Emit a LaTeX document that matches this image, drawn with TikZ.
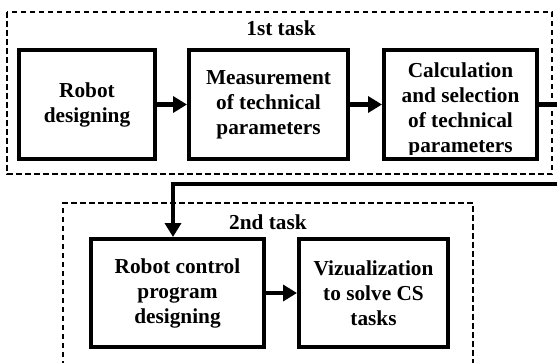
\documentclass[tikz,border=0pt]{standalone}
\usepackage{fontspec}
\setmainfont{Liberation Serif}
\usetikzlibrary{arrows.meta}
\begin{document}
\begin{tikzpicture}[x=1pt,y=-1pt,
  txt/.style={font=\fontsize{21.3}{25}\selectfont\bfseries,inner sep=0pt,align=center},
  blk/.style={txt,draw,line width=4pt,rectangle},
  grp/.style={draw,line width=1.4pt,dash pattern=on 5.5pt off 3.5pt},
  flow/.style={line width=4.5pt,-{Triangle[length=14pt,width=16pt]}},
  wire/.style={line width=4.5pt}]
\useasboundingbox (0,0) rectangle (557,362);
\clip (0,0) rectangle (557,362);
% group frames
\draw[grp] (7,12) rectangle (552,174);
\draw[grp] (63,420) -- (63,203) -- (473,203) -- (473,420);
\node[txt] (t1) at (281,28.5) {1st task};
\node[txt] (t2) at (268,222) {2nd task};
% boxes
\node[blk,minimum width=136pt,minimum height=109pt] (a) at (87,104.5) {Robot\\designing};
\node[blk,minimum width=159pt,minimum height=109pt] (b) at (268.5,104.5) {Measurement\\of technical\\parameters};
\begin{scope}
\clip (386,52) rectangle (535,154);
\node[txt] (ct) at (460.5,110) {Calculation\\and selection\\of technical\\parameters};
\end{scope}
\node[blk,minimum width=153pt,minimum height=109pt] (c) at (460.5,104.5) {};
\node[blk,minimum width=173pt,minimum height=108pt] (d) at (177.5,293) {Robot control\\program\\designing};
\node[blk,minimum width=149pt,minimum height=108pt] (e) at (373.5,293) {Vizualization\\to solve CS\\tasks};
% connectors
\draw[flow] (a) -- (b);
\draw[flow] (b) -- (c);
\draw[flow] (d) -- (e);
\coordinate (r1) at (580,104.5);
\coordinate (r2) at (580,184);
\draw[flow] (c.east) -- (r1) -- (r2) -| ([xshift=-4.5pt]d.north);
\end{tikzpicture}
\end{document}
